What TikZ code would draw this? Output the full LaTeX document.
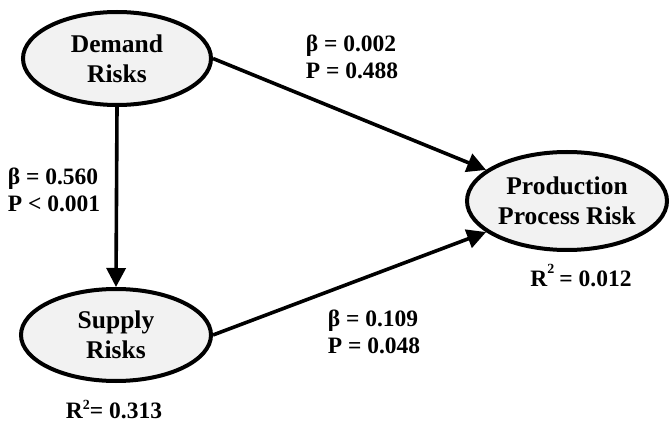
\documentclass[tikz,border=0pt]{standalone}
\usepackage{fontspec}
\setmainfont{Liberation Serif}
\usetikzlibrary{shapes.geometric,arrows.meta}
\begin{document}
\begin{tikzpicture}[x=1pt,y=-1pt,
  construct/.style={draw=black, line width=4pt, fill=black!5, ellipse,
    inner sep=0pt, align=center, font=\fontsize{25.5}{30}\selectfont\bfseries},
  link/.style={line width=3.6pt, -{Triangle[length=19pt,width=19pt]}},
  coef/.style={align=left, inner sep=0pt, font=\fontsize{23.5}{27}\selectfont\bfseries},
  rsq/.style={inner sep=0pt, font=\fontsize{23.5}{27}\selectfont\bfseries}]
\useasboundingbox (0,0) rectangle (670,422);

% latent constructs
\node[construct, minimum width=188pt, minimum height=93pt] (demand) at (117,58.5) {Demand\\Risks};
\node[construct, minimum width=190pt, minimum height=92pt] (supply) at (116,335) {Supply\\Risks};
\node[construct, minimum width=200pt, minimum height=98pt] (prod) at (567,201) {Production\\Process Risk};

% structural paths
\draw[link] (demand.south) -- (supply.north);
\draw[link] (demand.east) -- (prod.159);
\draw[link] (supply.east) -- (prod.201);

% path coefficients
\node[coef] (c1) at (352,57) {β = 0.002\\P = 0.488};
\node[coef] (c2) at (54,190) {β = 0.560\\P < 0.001};
\node[coef] (c3) at (374,332) {β = 0.109\\P = 0.048};

% explained variance
\node[rsq, anchor=base] (r1) at (581,287) {R\raisebox{13pt}{\fontsize{14}{14}\selectfont 2}\hspace{5pt}= 0.012};
\node[rsq, anchor=base] (r2) at (114,418) {R\raisebox{9pt}{\fontsize{14}{14}\selectfont 2}= 0.313};
\end{tikzpicture}
\end{document}
